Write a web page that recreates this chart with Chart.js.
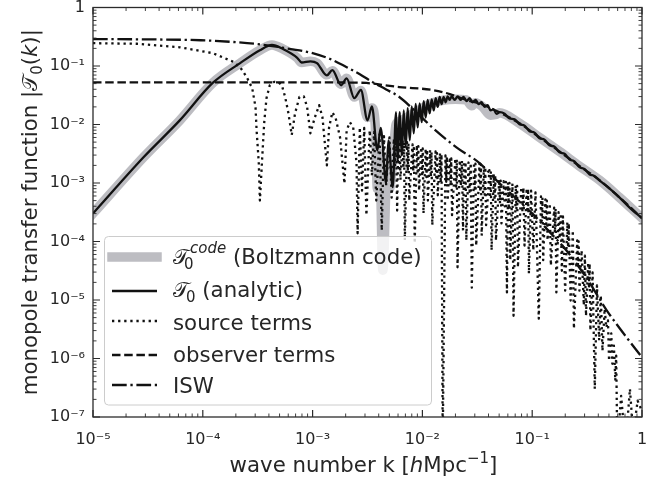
<!DOCTYPE html>
<html><head><meta charset="utf-8">
<script src="https://cdn.jsdelivr.net/npm/chart.js@4.4.1/dist/chart.umd.min.js"></script>
<style>html,body{margin:0;padding:0;background:#fff}canvas{display:block}</style>
</head><body>
<canvas id="c" width="667" height="480" style="width:667px;height:480px"></canvas>
<script>
// ---- tick labels / decades ----
const X_DECADES = [1e-5, 1e-4, 1e-3, 1e-2, 1e-1, 1];
const X_TICK_LABELS = ['10⁻⁵', '10⁻⁴', '10⁻³', '10⁻²', '10⁻¹', '1'];
const Y_DECADES = [1e-7, 1e-6, 1e-5, 1e-4, 1e-3, 1e-2, 1e-1, 1];
const Y_TICK_LABELS = ['10⁻⁷', '10⁻⁶', '10⁻⁵', '10⁻⁴', '10⁻³', '10⁻²', '10⁻¹', '1'];
const MINOR = [2, 3, 4, 5, 6, 7, 8, 9];

// ---- series: [log10 k, log10 |T0|] ----
const CODE = [[-5.00,-3.52],[-4.54,-2.56],[-4.21,-1.93],[-3.91,-1.29],[-3.66,-0.95],[-3.48,-0.73],[-3.37,-0.64],[-3.27,-0.71],[-3.14,-0.86],[-3.10,-0.94],[-3.02,-0.92],[-2.96,-0.95],[-2.87,-1.15],[-2.82,-1.08],[-2.74,-1.31],[-2.69,-1.21],[-2.62,-1.53],[-2.56,-1.42],[-2.50,-1.88],[-2.46,-1.72],[-2.43,-2.00],[-2.41,-3.10],[-2.39,-2.50],[-2.36,-4.49],[-2.32,-2.60],[-2.30,-3.10],[-2.27,-2.60],[-2.24,-2.00],[-2.21,-1.95],[-2.12,-1.85],[-2.02,-1.74],[-1.91,-1.63],[-1.80,-1.58],[-1.70,-1.57],[-1.60,-1.58],[-1.55,-1.68],[-1.52,-1.63],[-1.45,-1.70],[-1.38,-1.84],[-1.33,-1.83],[-1.30,-1.80],[-1.115,-1.98],[-0.934,-2.22],[-0.752,-2.46],[-0.570,-2.71],[-0.388,-2.95],[-0.206,-3.245],[0.00,-3.60]];

const ANALYTIC = [[-5.00,-3.52],[-4.54,-2.56],[-4.21,-1.93],[-3.91,-1.29],[-3.66,-0.95],[-3.48,-0.73],[-3.37,-0.64],[-3.27,-0.71],[-3.14,-0.86],[-3.10,-0.94],[-3.02,-0.92],[-2.96,-0.95],[-2.87,-1.16],[-2.82,-1.07],[-2.74,-1.33],[-2.69,-1.21],[-2.62,-1.55],[-2.56,-1.41],[-2.50,-1.93],[-2.46,-1.69],[-2.41,-2.44],[-2.38,-2.06],[-2.33,-3.01],[-2.31,-2.27],[-2.27,-3.07],[-2.24,-1.79],
[-2.225,-2.61],[-2.206,-1.79],[-2.188,-2.53],[-2.170,-1.76],[-2.152,-2.39],[-2.134,-1.72],[-2.115,-2.27],[-2.097,-1.69],[-2.079,-2.15],[-2.061,-1.65],[-2.043,-2.05],[-2.025,-1.64],[-2.006,-1.96],[-1.988,-1.60],[-1.970,-1.88],[-1.952,-1.58],[-1.934,-1.81],[-1.915,-1.57],[-1.897,-1.76],[-1.879,-1.55],[-1.861,-1.70],[-1.843,-1.53],[-1.825,-1.65],[-1.806,-1.53],[-1.788,-1.62],[-1.770,-1.52],[-1.752,-1.58],[-1.734,-1.52],[-1.706,-1.58],[-1.679,-1.52],[-1.652,-1.58],[-1.625,-1.53],[-1.597,-1.60],[-1.570,-1.55],[-1.543,-1.62],[-1.515,-1.58],[-1.488,-1.65],[-1.461,-1.62],[-1.434,-1.70],[-1.406,-1.67],[-1.379,-1.76],[-1.352,-1.74],[-1.325,-1.82],[-1.297,-1.79],
[-1.251,-1.815],[-1.206,-1.895],[-1.160,-1.91],[-1.115,-1.995],[-1.070,-2.02],[-1.025,-2.115],[-0.979,-2.14],[-0.934,-2.235],[-0.888,-2.26],[-0.843,-2.355],[-0.797,-2.38],[-0.752,-2.475],[-0.706,-2.50],[-0.661,-2.595],[-0.615,-2.63],[-0.570,-2.73],[-0.525,-2.76],[-0.479,-2.85],[-0.434,-2.88],[-0.388,-2.954],[-0.297,-3.091],[-0.206,-3.245],[-0.115,-3.416],[0.00,-3.604]];

const SOURCE = [[-5.00,-0.61],[-4.60,-0.62],[-4.21,-0.68],[-3.91,-0.78],[-3.72,-0.93],[-3.66,-1.02],[-3.60,-1.19],[-3.55,-1.38],[-3.52,-1.70],[-3.51,-2.10],[-3.49,-2.66],[-3.48,-3.30],[-3.46,-2.60],[-3.44,-1.95],[-3.42,-1.55],[-3.39,-1.33],[-3.35,-1.27],[-3.31,-1.28],[-3.28,-1.33],[-3.25,-1.53],[-3.22,-1.81],[-3.19,-2.18],[-3.16,-1.81],[-3.12,-1.53],[-3.08,-1.52],[-3.05,-1.70],[-3.02,-2.15],[-2.98,-1.88],[-2.94,-1.67],[-2.91,-1.88],[-2.87,-2.70],[-2.85,-2.05],[-2.82,-1.79],[-2.79,-1.89],[-2.75,-2.22],[-2.71,-3.01],[-2.69,-2.10],[-2.66,-1.96],[-2.63,-2.05],[-2.60,-2.66],[-2.59,-3.86],
[-2.57,-2.05],[-2.55,-3.13],[-2.53,-2.06],[-2.51,-3.55],[-2.48,-2.10],[-2.46,-2.87],[-2.44,-2.13],[-2.42,-3.30],[-2.39,-2.17],[-2.37,-3.81],[-2.35,-2.20],[-2.33,-3.04],[-2.30,-2.22],[-2.28,-3.25],
[-2.26,-2.24],[-2.25,-2.70],[-2.24,-2.26],[-2.23,-3.47],
[-2.22,-2.27],[-2.213,-2.75],[-2.207,-2.29],[-2.20,-2.95],
[-2.18,-2.29],[-2.173,-2.75],[-2.167,-2.31],[-2.16,-3.98],
[-2.14,-2.30],[-2.133,-2.80],[-2.127,-2.32],[-2.12,-3.30],
[-2.09,-2.34],[-2.083,-2.80],[-2.077,-2.36],[-2.07,-4.03],
[-2.05,-2.35],[-2.043,-2.85],[-2.037,-2.37],[-2.03,-3.13],
[-2.01,-2.39],[-2.003,-2.85],[-1.997,-2.41],[-1.99,-3.52],
[-1.97,-2.41],[-1.963,-2.90],[-1.957,-2.43],[-1.95,-3.30],
[-1.93,-2.44],[-1.923,-2.90],[-1.917,-2.47],[-1.91,-3.72],
[-1.88,-2.46],[-1.873,-2.95],[-1.867,-2.49],[-1.86,-3.21],
[-1.84,-2.49],[-1.833,-3.00],[-1.826,-2.51],[-1.815,-7.5],
[-1.79,-2.53],[-1.783,-2.98],[-1.777,-2.55],[-1.77,-3.30],
[-1.75,-2.56],[-1.743,-3.05],[-1.737,-2.58],[-1.73,-3.55],
[-1.70,-2.58],[-1.693,-3.10],[-1.687,-2.60],[-1.68,-4.44],
[-1.66,-2.61],[-1.65,-3.05],[-1.64,-2.62],[-1.63,-3.81],
[-1.62,-2.63],[-1.613,-3.10],[-1.607,-2.64],[-1.60,-3.98],
[-1.58,-2.65],[-1.57,-3.15],[-1.56,-2.66],[-1.55,-4.79],
[-1.53,-2.65],[-1.523,-3.10],[-1.517,-2.67],[-1.51,-4.07],
[-1.48,-2.66],[-1.473,-3.15],[-1.467,-2.68],[-1.46,-3.90],
[-1.44,-2.71],[-1.433,-3.20],[-1.427,-2.73],[-1.42,-3.72],
[-1.39,-2.78],[-1.383,-3.25],[-1.377,-2.80],[-1.37,-4.15],
[-1.35,-2.85],[-1.343,-3.30],[-1.337,-2.87],[-1.33,-3.98],
[-1.30,-2.94],[-1.293,-3.35],[-1.287,-2.96],[-1.28,-3.69],
[-1.26,-2.97],[-1.25,-3.40],[-1.24,-2.98],[-1.23,-4.87],
[-1.22,-2.99],[-1.213,-3.40],[-1.207,-3.00],[-1.20,-4.32],
[-1.18,-3.01],[-1.17,-5.27],
[-1.15,-3.04],[-1.143,-3.45],[-1.137,-3.05],[-1.13,-4.44],
[-1.10,-3.07],[-1.09,-3.50],[-1.08,-3.08],[-1.07,-4.07],
[-1.05,-3.09],[-1.043,-3.50],[-1.037,-3.10],[-1.03,-4.55],
[-1.01,-3.13],[-0.99,-4.15],[-0.97,-3.16],[-0.94,-5.32],
[-0.92,-3.23],[-0.913,-3.65],[-0.907,-3.25],[-0.90,-4.32],
[-0.88,-3.28],[-0.873,-3.70],[-0.867,-3.30],[-0.86,-3.98],
[-0.84,-3.35],[-0.83,-4.41],
[-0.80,-3.42],[-0.793,-3.85],[-0.787,-3.44],[-0.78,-4.87],
[-0.76,-3.50],[-0.75,-3.95],[-0.74,-3.52],[-0.73,-4.50],
[-0.72,-3.57],[-0.70,-4.84],
[-0.68,-3.67],[-0.673,-4.10],[-0.667,-3.69],[-0.65,-5.01],
[-0.63,-3.81],[-0.62,-5.49],
[-0.59,-3.98],[-0.583,-4.40],[-0.577,-4.00],[-0.57,-4.84],
[-0.55,-4.15],[-0.53,-5.09],[-0.52,-4.24],[-0.51,-5.27],
[-0.49,-4.36],[-0.483,-4.80],[-0.477,-4.38],[-0.47,-5.52],
[-0.45,-4.53],[-0.43,-6.52],[-0.41,-4.75],[-0.39,-5.69],[-0.375,-4.92],[-0.36,-5.87],[-0.34,-5.15],[-0.325,-5.47],[-0.31,-5.35],[-0.30,-6.04],[-0.28,-5.57],[-0.27,-6.09],[-0.256,-5.78],[-0.243,-6.38],[-0.235,-5.95],[-0.225,-7.5],[-0.19,-6.64],[-0.15,-7.5],[-0.11,-6.52],[-0.08,-7.3],[-0.04,-6.72],[0.00,-6.90]];

const OBSERVER = [[-5.00,-1.28],[-3.00,-1.28],[-2.60,-1.285],[-2.51,-1.29],[-2.21,-1.36],[-1.91,-1.41],[-1.75,-1.48],[-1.60,-1.58],[-1.45,-1.66],[-1.30,-1.79],[-1.115,-1.98],[-0.934,-2.22],[-0.752,-2.46],[-0.570,-2.71],[-0.388,-2.95],[-0.206,-3.245],[0.00,-3.60]];

const ISW = [[-5.00,-0.54],[-4.50,-0.545],[-4.02,-0.56],[-3.72,-0.59],[-3.48,-0.63],[-3.20,-0.71],[-3.00,-0.78],[-2.84,-0.88],[-2.69,-1.02],[-2.57,-1.14],[-2.45,-1.28],[-2.33,-1.40],[-2.21,-1.53],[-2.05,-1.80],[-1.91,-2.05],[-1.69,-2.39],[-1.48,-2.66],[-1.30,-3.00],[-1.15,-3.26],[-1.00,-3.52],[-0.84,-3.84],[-0.69,-4.15],[-0.51,-4.61],[-0.32,-5.18],[-0.14,-5.64],[0.00,-5.98]];

const LABELS = ['𝒯₀ᶜᵒᵈᵉ (Boltzmann code)', '𝒯₀ (analytic)', 'source terms', 'observer terms', 'ISW'];

// ---- styling ----
const TEXT = '#262626';
const AXIS = '#2b2b2b';
const GRAY = '#bdbdc2';
const INK = '#111111';
const FF = "'DejaVu Sans', sans-serif";
const F = `21.3px ${FF}`, FI = `italic 21.3px ${FF}`;
const SUB = `15px ${FF}`, SUBI = `italic 15px ${FF}`;

const toXY = arr => arr.map(([lk, lt]) => ({x: Math.pow(10, lk), y: Math.pow(10, lt)}));

function drawParts(ctx, x, y, parts, doDraw = true) {
  let cx = x;
  for (const p of parts) {
    ctx.font = p.f;
    const dx = p.dx || 0;
    if (doDraw) ctx.fillText(p.t, cx + dx, y + (p.dy || 0));
    if (!p.stay) cx += ctx.measureText(p.t).width + dx;
  }
  return cx - x;
}

const framePlugin = {
  id: 'frame',
  afterDatasetsDraw(chart) {
    const {ctx, chartArea: a, scales: {x, y}} = chart;
    ctx.save();
    ctx.strokeStyle = AXIS;
    ctx.lineWidth = 0.9;
    ctx.beginPath();
    for (const d of X_DECADES) for (const m of MINOR) {
      const v = d * m; if (v > 1) continue;
      const p = x.getPixelForValue(v);
      ctx.moveTo(p, a.bottom); ctx.lineTo(p, a.bottom - 3.5);
      ctx.moveTo(p, a.top); ctx.lineTo(p, a.top + 3.5);
    }
    for (const d of Y_DECADES) for (const m of MINOR) {
      const v = d * m; if (v > 1) continue;
      const p = y.getPixelForValue(v);
      ctx.moveTo(a.left, p); ctx.lineTo(a.left + 3.5, p);
      ctx.moveTo(a.right, p); ctx.lineTo(a.right - 3.5, p);
    }
    ctx.stroke();
    ctx.lineWidth = 1.2;
    ctx.beginPath();
    for (const d of X_DECADES) {
      const p = x.getPixelForValue(d);
      ctx.moveTo(p, a.bottom); ctx.lineTo(p, a.bottom - 7);
      ctx.moveTo(p, a.top); ctx.lineTo(p, a.top + 7);
    }
    for (const d of Y_DECADES) {
      const p = y.getPixelForValue(d);
      ctx.moveTo(a.left, p); ctx.lineTo(a.left + 7, p);
      ctx.moveTo(a.right, p); ctx.lineTo(a.right - 7, p);
    }
    ctx.stroke();
    ctx.lineWidth = 1.3;
    ctx.strokeRect(a.left, a.top, a.right - a.left, a.bottom - a.top);

    // axis titles
    ctx.fillStyle = TEXT;
    ctx.textBaseline = 'alphabetic';
    ctx.textAlign = 'left';
    const xt = [{t: 'wave number k [', f: F}, {t: 'h', f: FI}, {t: 'Mpc', f: F}, {t: '−1', f: SUB, dy: -9}, {t: ']', f: F}];
    const wx = drawParts(ctx, 0, 0, xt, false);
    drawParts(ctx, (a.left + a.right) / 2 - 4 - wx / 2, 472, xt);
    const yt = [{t: 'monopole transfer function |', f: F}, {t: '𝒯', f: F}, {t: '0', f: SUB, dy: 5}, {t: '(', f: F}, {t: 'k', f: FI}, {t: ')|', f: F}];
    ctx.save();
    ctx.translate(37, (a.top + a.bottom) / 2);
    ctx.rotate(-Math.PI / 2);
    const w = drawParts(ctx, 0, 0, yt, false);
    drawParts(ctx, -w / 2, 0, yt);
    ctx.restore();
    ctx.restore();
  },
  afterDraw(chart) {
    const ctx = chart.ctx;
    ctx.save();
    ctx.beginPath();
    ctx.roundRect(104.5, 236.5, 327, 168.5, 4);
    ctx.fillStyle = 'rgba(255,255,255,0.8)';
    ctx.fill();
    ctx.strokeStyle = '#cccccc';
    ctx.lineWidth = 1;
    ctx.stroke();
    const handleY = [257, 291, 321, 355, 385];
    const baseY = [264, 297, 330, 362, 393];
    chart.data.datasets.forEach((ds, i) => {
      ctx.save();
      ctx.strokeStyle = ds.borderColor;
      ctx.lineWidth = ds.borderWidth;
      ctx.lineCap = ds.borderCapStyle || 'butt';
      ctx.setLineDash(ds.borderDash || []);
      ctx.beginPath();
      ctx.moveTo(112, handleY[i]); ctx.lineTo(157, handleY[i]);
      ctx.stroke();
      ctx.restore();
    });
    ctx.fillStyle = TEXT;
    ctx.textBaseline = 'alphabetic';
    ctx.textAlign = 'left';
    const tx = 173;
    ctx.font = F;
    const wT = ctx.measureText('𝒯').width;
    drawParts(ctx, tx, baseY[0], [{t: '𝒯', f: F}, {t: '0', f: SUB, dy: 5, dx: 11 - wT, stay: true}, {t: 'code', f: SUBI, dy: -11, dx: 17 - wT}, {t: ' (Boltzmann code)', f: F}]);
    drawParts(ctx, tx, baseY[1], [{t: '𝒯', f: F}, {t: '0', f: SUB, dy: 5, dx: 13 - wT}, {t: ' (analytic)', f: F}]);
    drawParts(ctx, tx, baseY[2], [{t: LABELS[2], f: F}]);
    drawParts(ctx, tx, baseY[3], [{t: LABELS[3], f: F}]);
    drawParts(ctx, tx, baseY[4], [{t: LABELS[4], f: F}]);
    ctx.restore();
  }
};

const common = {pointRadius: 0, pointHoverRadius: 0, fill: false, clip: 0, borderJoinStyle: 'round'};

new Chart(document.getElementById('c'), {
  type: 'line',
  data: {
    datasets: [
      {...common, label: LABELS[0], data: toXY(CODE), borderColor: GRAY, borderWidth: 9.5, cubicInterpolationMode: 'monotone', borderCapStyle: 'square', order: 5},
      {...common, label: LABELS[1], data: toXY(ANALYTIC), borderColor: INK, borderWidth: 2.3, cubicInterpolationMode: 'monotone', order: 3},
      {...common, label: LABELS[2], data: toXY(SOURCE), borderColor: INK, borderWidth: 2.3, borderDash: [2.3, 3.8], tension: 0, order: 4},
      {...common, label: LABELS[3], data: toXY(OBSERVER), borderColor: INK, borderWidth: 2.3, borderDash: [8.5, 3.7], cubicInterpolationMode: 'monotone', order: 2},
      {...common, label: LABELS[4], data: toXY(ISW), borderColor: INK, borderWidth: 2.3, borderDash: [14.7, 3.7, 2.3, 3.7], cubicInterpolationMode: 'monotone', order: 1}
    ]
  },
  options: {
    responsive: false,
    animation: false,
    devicePixelRatio: 1,
    events: [],
    layout: {padding: {left: 0, right: 25, top: 7.5, bottom: 0}},
    plugins: {legend: {display: false}, tooltip: {enabled: false}},
    scales: {
      x: {
        type: 'logarithmic', position: 'bottom', min: 1e-5, max: 1,
        grid: {display: false, drawTicks: false}, border: {display: false},
        ticks: {autoSkip: false, maxRotation: 0, padding: 15, color: TEXT, font: {family: FF, size: 16, lineHeight: 1},
          callback: (v, i) => X_TICK_LABELS[i]},
        afterBuildTicks: s => { s.ticks = X_DECADES.map(v => ({value: v})); },
        afterFit: s => { s.height = 63; s.paddingLeft = 0; s.paddingRight = 0; }
      },
      y: {
        type: 'logarithmic', position: 'left', min: 1e-7, max: 1,
        grid: {display: false, drawTicks: false}, border: {display: false},
        ticks: {autoSkip: false, padding: 8, color: TEXT, font: {family: FF, size: 16, lineHeight: 1},
          callback: (v, i) => Y_TICK_LABELS[i]},
        afterBuildTicks: s => { s.ticks = Y_DECADES.map(v => ({value: v})); },
        afterFit: s => { s.width = 93; s.paddingTop = 0; s.paddingBottom = 0; }
      }
    }
  },
  plugins: [framePlugin]
});
</script></body></html>
